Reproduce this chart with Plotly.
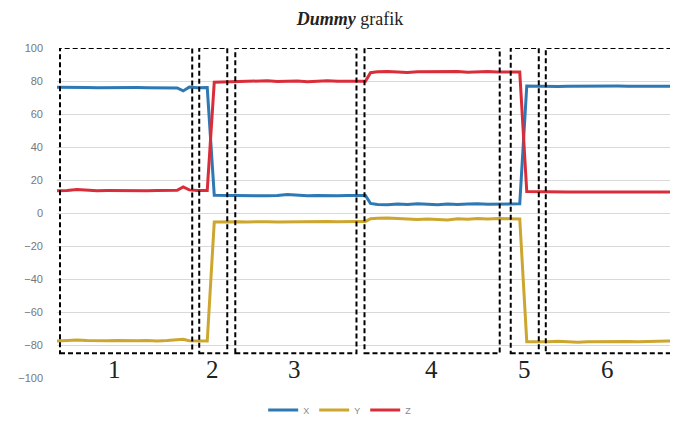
import plotly.graph_objects as go

# time samples (arbitrary units)
t = [0, 5, 10, 15, 20, 25, 30, 35, 40, 45, 50, 55, 60, 63, 66, 70, 75,
     78.5, 85, 90, 95, 100, 105, 110, 115, 120, 125, 130, 135, 140, 145, 150, 154,
     156.5, 160, 165, 170, 175, 180, 185, 190, 195, 200, 205, 210, 215, 220, 225, 231,
     234.5, 240, 245, 250, 255, 260, 265, 270, 275, 280, 285, 290, 295, 300, 305, 310]

x_vals = [76.2, 76.0, 76.1, 76.0, 75.9, 76.0, 76.1, 76.0, 76.0, 75.9, 76.0, 76.1, 75.8, 74.0, 76.3, 75.9, 76.0,
          10.8, 10.6, 10.5, 10.7, 10.4, 10.5, 10.6, 11.2, 10.8, 10.5, 10.6, 10.4, 10.5, 10.6, 10.5, 10.6,
          5.8, 5.2, 5.0, 5.4, 5.1, 5.6, 5.3, 5.0, 5.5, 5.2, 5.4, 5.6, 5.3, 5.5, 5.4, 5.6,
          77.0, 76.8, 76.9, 76.7, 76.8, 76.9, 76.8, 76.7, 76.8, 76.9, 76.8, 76.7, 76.8, 76.9, 76.8, 76.8]

y_vals = [-77.5, -77.2, -77.0, -77.3, -77.5, -77.4, -77.3, -77.5, -77.4, -77.2, -77.5, -77.3, -77.0, -76.5, -77.4, -77.5, -77.6,
          -5.5, -5.2, -5.3, -5.4, -5.2, -5.3, -5.4, -5.3, -5.2, -5.4, -5.3, -5.2, -5.3, -5.4, -5.2, -5.1,
          -3.5, -3.2, -3.0, -3.4, -3.8, -4.0, -3.6, -3.9, -4.2, -3.5, -3.8, -3.3, -3.6, -3.4, -3.5, -3.6,
          -78.0, -78.2, -78.0, -77.8, -78.1, -78.3, -78.0, -77.9, -78.2, -78.0, -77.9, -78.1, -77.8, -77.6, -77.5, -77.7]

z_vals = [13.5, 13.6, 14.3, 13.8, 13.5, 13.6, 13.5, 13.4, 13.6, 13.5, 13.6, 13.5, 13.8, 15.8, 14.0, 13.6, 13.7,
          79.3, 79.5, 79.8, 79.6, 79.9, 80.1, 79.7, 79.8, 80.0, 79.6, 79.9, 80.2, 79.8, 79.7, 79.5, 79.8,
          85.0, 85.6, 85.8, 85.5, 85.2, 85.6, 85.7, 85.4, 85.5, 85.8, 85.3, 85.6, 85.7, 85.5, 85.6, 85.4,
          13.0, 12.8, 12.7, 12.8, 12.7, 12.8, 12.7, 12.8, 12.7, 12.8, 12.7, 12.7, 12.8, 12.7, 12.8, 12.7]

# phase boxes (start, end in time units) and labels
box_start = [1.5, 71, 89, 153.5, 226.5, 244]
box_end = [67.5, 85, 149.5, 221, 240.5, 313]
box_labels = ["1", "2", "3", "4", "5", "6"]
label_pos = [28.5, 77.5, 118.5, 187, 233.5, 275]
box_low, box_high = -85, 100
label_y = -95

fig = go.Figure()
series = [("X", x_vals, "#2E78B4"), ("Y", y_vals, "#CDA630"), ("Z", z_vals, "#D92D3A")]
for name, vals, col in series:
    fig.add_trace(go.Scatter(x=t, y=vals, mode="lines", name=name,
                             line=dict(color=col, width=3)))

for s, e in zip(box_start, box_end):
    fig.add_shape(type="rect", x0=s, x1=e, y0=box_low, y1=box_high,
                  xref="x", yref="y", line=dict(color="black", width=2, dash="5px,3px"),
                  fillcolor="rgba(0,0,0,0)")

for lab, px in zip(box_labels, label_pos):
    fig.add_annotation(x=px, y=label_y, text=lab, showarrow=False,
                       font=dict(family="Liberation Serif", size=25, color="#222"),
                       xref="x", yref="y")

# page body has an 8px default margin, so the figure is sized to fit the window
fig.update_layout(
    width=670, height=420,
    margin=dict(l=49, r=0, t=40, b=50),
    paper_bgcolor="white", plot_bgcolor="white",
    title=dict(text="<b><i>Dummy</i></b> grafik", x=342 / 670, xanchor="center",
               y=1 - 11 / 420, yanchor="middle",
               font=dict(family="Liberation Serif", size=18, color="#222")),
    xaxis=dict(range=[0, 310], showgrid=False, showticklabels=False, zeroline=False,
               showline=False, ticks="", automargin=False),
    yaxis=dict(range=[-100, 100], dtick=20, gridcolor="#D9D9D9", gridwidth=1,
               zeroline=False, showline=False, ticks="", automargin=False,
               ticklabelstandoff=13,
               tickfont=dict(family="Liberation Sans", size=11, color="#777")),
    legend=dict(orientation="h", x=0.456, xanchor="center", y=-0.097, yanchor="middle",
                font=dict(family="Liberation Sans", size=9, color="#888"),
                itemwidth=30),
    showlegend=True,
)

fig.write_html("out.html")
